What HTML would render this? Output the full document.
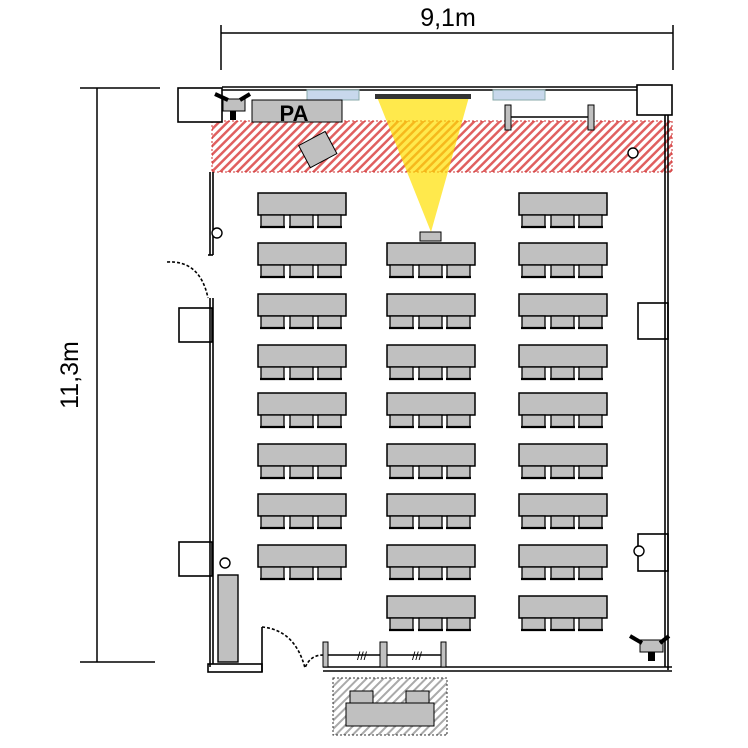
<!DOCTYPE html>
<html><head><meta charset="utf-8"><style>html,body{margin:0;padding:0;background:#fff}svg{display:block}</style></head>
<body>
<svg width="748" height="748" viewBox="0 0 748 748" xmlns="http://www.w3.org/2000/svg">
<defs>
<pattern id="red" patternUnits="userSpaceOnUse" width="6" height="6" patternTransform="rotate(45)">
<rect width="6" height="6" fill="#fff"/><rect width="2.5" height="6" fill="#e06060"/></pattern>
<pattern id="gr" patternUnits="userSpaceOnUse" width="6" height="6" patternTransform="rotate(45)">
<rect width="6" height="6" fill="#fff"/><rect width="2" height="6" fill="#aaa"/></pattern>
<g id="t">
<rect x="0" y="0" width="88" height="22" fill="#c0c0c0" stroke="#000" stroke-width="1.5"/>
<g fill="#c0c0c0" stroke="#000" stroke-width="1.3">
<rect x="3" y="22" width="23" height="12"/><rect x="32" y="22" width="23" height="12"/><rect x="60" y="22" width="23" height="12"/></g>
<g stroke="#000" stroke-width="2.2"><line x1="2" y1="34" x2="27" y2="34"/><line x1="31" y1="34" x2="56" y2="34"/><line x1="59" y1="34" x2="84" y2="34"/></g>
</g>
</defs>
<g stroke="#000" stroke-width="1.5" fill="none">
<line x1="221" y1="33" x2="673" y2="33"/><line x1="221" y1="25" x2="221" y2="70"/><line x1="673" y1="25" x2="673" y2="70"/>
<line x1="97" y1="88" x2="97" y2="662"/><line x1="80" y1="88" x2="160" y2="88"/><line x1="80" y1="662" x2="155" y2="662"/>
</g>
<text x="448" y="26" font-family="Liberation Sans, sans-serif" font-size="25" text-anchor="middle" fill="#000">9,1m</text>
<text transform="translate(78,375) rotate(-90)" font-family="Liberation Sans, sans-serif" font-size="25" text-anchor="middle" fill="#000">11,3m</text>
<rect x="212" y="121" width="460" height="51" fill="url(#red)" stroke="#c33" stroke-dasharray="2,2"/>
<polygon points="377,97 469,97 431,232" fill="#ffe000" opacity="0.7"/>
<rect x="375" y="94" width="96" height="5" fill="#333"/>
<rect x="420" y="232" width="21" height="9" fill="#c0c0c0" stroke="#000"/>
<g fill="#fff" stroke="#000" stroke-width="1.6">
<rect x="178" y="88" width="44" height="34"/>
<rect x="637" y="85" width="35" height="30"/>
<rect x="179" y="308" width="33" height="34"/>
<rect x="179" y="542" width="33" height="34"/>
<rect x="638" y="303" width="30" height="36"/>
<rect x="638" y="534" width="30" height="37"/>
</g>
<g stroke="#000" stroke-width="1.6" fill="none">
<line x1="222" y1="87" x2="637" y2="87"/><line x1="222" y1="90" x2="637" y2="90"/>
<line x1="210" y1="172" x2="210" y2="255"/><line x1="213" y1="172" x2="213" y2="255"/>
<line x1="210" y1="298" x2="210" y2="667"/><line x1="213" y1="298" x2="213" y2="664"/>
<line x1="665" y1="115" x2="665" y2="667"/><line x1="668" y1="115" x2="668" y2="670"/>
<rect x="208" y="664" width="54" height="8"/>
<line x1="323" y1="667" x2="672" y2="667"/><line x1="323" y1="671" x2="672" y2="671"/>
<line x1="262" y1="627" x2="262" y2="672"/>
<path d="M262,627 Q295,630 305,668 Q310,655 323,655" stroke-dasharray="3,2"/>
<path d="M167,262 Q200,260 208,298" stroke-dasharray="3,2"/>
<line x1="208" y1="255" x2="213" y2="255"/>
<line x1="323" y1="655" x2="445" y2="655"/>
<line x1="508" y1="117" x2="592" y2="117"/>
</g>
<g fill="#c0c0c0" stroke="#000">
<rect x="323" y="642" width="5" height="25"/><rect x="380" y="642" width="7" height="25"/><rect x="441" y="642" width="5" height="25"/>
<rect x="505" y="105" width="6" height="25"/><rect x="588" y="105" width="6" height="25"/>
</g>
<text x="357" y="660" font-size="12" font-family="Liberation Sans, sans-serif" fill="#000">///</text>
<text x="412" y="660" font-size="12" font-family="Liberation Sans, sans-serif" fill="#000">///</text>
<rect x="307" y="90" width="52" height="10" fill="#c8d8ec" stroke="#8aa"/>
<rect x="493" y="90" width="52" height="10" fill="#c8d8ec" stroke="#8aa"/>
<rect x="252" y="100" width="90" height="22" fill="#c0c0c0" stroke="#000"/>
<text x="294" y="121" font-family="Liberation Sans, sans-serif" font-weight="bold" font-size="22" text-anchor="middle" fill="#000">PA</text>
<rect x="223" y="99" width="22" height="12" fill="#c0c0c0" stroke="#000"/>
<rect x="230" y="111" width="6" height="9" fill="#000"/>
<path d="M215,94 L228,100 M250,94 L240,100" stroke="#000" stroke-width="4"/>
<rect x="303" y="137" width="30" height="25" fill="#c0c0c0" stroke="#000" transform="rotate(-28 318 150)"/>
<rect x="640" y="640" width="23" height="12" fill="#c0c0c0" stroke="#000"/>
<rect x="648" y="652" width="7" height="9" fill="#000"/>
<path d="M630,636 L642,643 M669,636 L660,643" stroke="#000" stroke-width="4"/>
<g fill="#fff" stroke="#000" stroke-width="1.4">
<circle cx="217" cy="233" r="5"/><circle cx="633" cy="153" r="5"/><circle cx="225" cy="563" r="5"/><circle cx="639" cy="551" r="5"/>
</g>
<rect x="218" y="575" width="20" height="87" fill="#c0c0c0" stroke="#000" stroke-width="1.4"/>
<use href="#t" x="258" y="193"/><use href="#t" x="258" y="243"/><use href="#t" x="258" y="294"/><use href="#t" x="258" y="345"/>
<use href="#t" x="258" y="393"/><use href="#t" x="258" y="444"/><use href="#t" x="258" y="494"/><use href="#t" x="258" y="545"/>
<use href="#t" x="387" y="243"/><use href="#t" x="387" y="294"/><use href="#t" x="387" y="345"/><use href="#t" x="387" y="393"/>
<use href="#t" x="387" y="444"/><use href="#t" x="387" y="494"/><use href="#t" x="387" y="545"/><use href="#t" x="387" y="596"/>
<use href="#t" x="519" y="193"/><use href="#t" x="519" y="243"/><use href="#t" x="519" y="294"/><use href="#t" x="519" y="345"/>
<use href="#t" x="519" y="393"/><use href="#t" x="519" y="444"/><use href="#t" x="519" y="494"/><use href="#t" x="519" y="545"/><use href="#t" x="519" y="596"/>
<rect x="333" y="678" width="114" height="57" fill="url(#gr)" stroke="#333" stroke-dasharray="2,2"/>
<rect x="346" y="703" width="88" height="23" fill="#c0c0c0" stroke="#000"/>
<rect x="350" y="691" width="23" height="12" fill="#c0c0c0" stroke="#000"/>
<rect x="406" y="691" width="23" height="12" fill="#c0c0c0" stroke="#000"/>
</svg>
</body></html>
